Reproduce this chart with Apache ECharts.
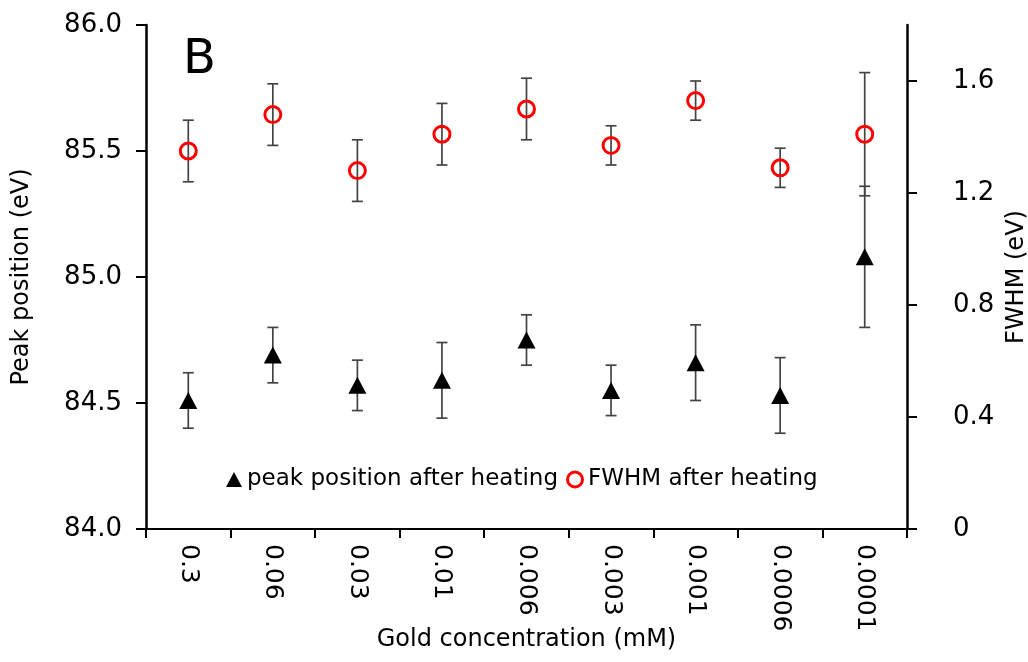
<!DOCTYPE html>
<html>
<head>
<meta charset="utf-8">
<script src="https://cdn.jsdelivr.net/npm/echarts@6/dist/echarts.min.js"></script>
<style>
  html, body { margin: 0; padding: 0; background: #fff; }
  #chart { width: 1028px; height: 662px; }
</style>
</head>
<body>
<div id="chart"></div>
<script>
// Gold concentration series (mM), in the order they are plotted
const concentrations = ['0.3', '0.06', '0.03', '0.01', '0.006', '0.003', '0.001', '0.0006', '0.0001'];

// Au 4f peak position after heating (eV) with standard deviation
const peakPosition = [84.51, 84.69, 84.57, 84.59, 84.75, 84.55, 84.66, 84.53, 85.08];
const peakError    = [0.11, 0.11, 0.10, 0.15, 0.10, 0.10, 0.15, 0.15, 0.28];

// FWHM after heating (eV) with standard deviation
const fwhm      = [1.35, 1.48, 1.28, 1.41, 1.50, 1.37, 1.53, 1.29, 1.41];
const fwhmError = [0.11, 0.11, 0.11, 0.11, 0.11, 0.07, 0.07, 0.07, 0.22];

// Right-axis tick values (the axis itself runs up to 1.8)
const fwhmTicks = [0, 0.4, 0.8, 1.2, 1.6];

const FONT = 'DejaVu Sans';
const INK = '#000';

// Vertical error bars with caps, drawn in data space of the given y axis
function errorBars(name, yAxisIndex, values, errors) {
  return {
    name: name + ' error',
    type: 'custom',
    yAxisIndex: yAxisIndex,
    silent: true,
    z: 1,
    data: values.map((v, i) => [i, v - errors[i], v + errors[i]]),
    encode: { x: 0, y: [1, 2] },
    renderItem: function (params, api) {
      const lo = api.coord([api.value(0), api.value(1)]);
      const hi = api.coord([api.value(0), api.value(2)]);
      const w = 5.5;
      const style = { stroke: '#444', lineWidth: 1.7 };
      return {
        type: 'group',
        children: [
          { type: 'line', shape: { x1: hi[0], y1: hi[1], x2: lo[0], y2: lo[1] }, style: style },
          { type: 'line', shape: { x1: hi[0] - w, y1: hi[1], x2: hi[0] + w, y2: hi[1] }, style: style },
          { type: 'line', shape: { x1: lo[0] - w, y1: lo[1], x2: lo[0] + w, y2: lo[1] }, style: style }
        ]
      };
    }
  };
}

const chart = echarts.init(document.getElementById('chart'), null, { renderer: 'canvas' });

chart.setOption({
  backgroundColor: '#fff',
  animation: false,
  textStyle: { fontFamily: FONT, color: INK },
  title: {
    text: 'B',
    left: 178,
    top: 32,
    textStyle: { fontFamily: FONT, fontSize: 48, fontWeight: 'normal', color: INK }
  },
  grid: { left: 146, right: 121, top: 25, bottom: 133, outerBoundsMode: 'none' },
  legend: {
    left: 221,
    top: 463,
    itemGap: 8,
    itemWidth: 16,
    itemHeight: 15,
    textStyle: { fontFamily: FONT, fontSize: 23, color: INK },
    data: [
      { name: 'peak position after heating', icon: 'triangle', itemStyle: { color: '#000', opacity: 1 } },
      { name: 'FWHM after heating', icon: 'circle',
        itemStyle: { color: 'transparent', borderColor: '#ff0000', borderWidth: 3, opacity: 1 } }
    ]
  },
  xAxis: {
    type: 'category',
    data: concentrations,
    boundaryGap: true,
    name: 'Gold concentration (mM)',
    nameLocation: 'middle',
    nameMoveOverlap: false,
    nameGap: 99,
    nameTextStyle: { fontFamily: FONT, fontSize: 24, color: INK },
    axisLine: { lineStyle: { color: INK, width: 2 } },
    axisTick: { show: true, length: 9, lineStyle: { color: INK, width: 2 } },
    axisLabel: { rotate: -90, margin: 15, fontFamily: FONT, fontSize: 25, color: INK },
    splitLine: { show: false }
  },
  yAxis: [
    {
      type: 'value',
      position: 'left',
      min: 84,
      max: 86,
      interval: 0.5,
      name: 'Peak position (eV)',
      nameLocation: 'middle',
      nameRotate: 90,
      nameGap: 112,
      nameTextStyle: { fontFamily: FONT, fontSize: 24, color: INK },
      axisLine: { show: true, lineStyle: { color: INK, width: 2.5 } },
      axisTick: { show: true, length: 10, lineStyle: { color: INK, width: 2 } },
      axisLabel: { margin: 24, fontFamily: FONT, fontSize: 26, color: INK,
                   formatter: v => v.toFixed(1) },
      splitLine: { show: false }
    },
    {
      type: 'value',
      position: 'right',
      min: 0,
      max: 1.8,
      interval: 0.4,
      name: 'FWHM (eV)',
      nameLocation: 'middle',
      nameRotate: 90,
      nameGap: 92,
      nameTextStyle: { fontFamily: FONT, fontSize: 24, color: INK },
      axisLine: { show: true, lineStyle: { color: INK, width: 2.5 } },
      axisTick: { show: true, length: 10, customValues: fwhmTicks, lineStyle: { color: INK, width: 2 } },
      axisLabel: { margin: 46, fontFamily: FONT, fontSize: 26, color: INK,
                   customValues: fwhmTicks, formatter: v => String(v) },
      splitLine: { show: false }
    }
  ],
  series: [
    errorBars('peak position after heating', 0, peakPosition, peakError),
    errorBars('FWHM after heating', 1, fwhm, fwhmError),
    {
      name: 'peak position after heating',
      type: 'scatter',
      yAxisIndex: 0,
      z: 3,
      symbol: 'triangle',
      symbolSize: [18, 17],
      itemStyle: { color: '#000', opacity: 1 },
      data: peakPosition
    },
    {
      name: 'FWHM after heating',
      type: 'scatter',
      yAxisIndex: 1,
      z: 3,
      symbol: 'circle',
      symbolSize: 16,
      itemStyle: { color: 'transparent', borderColor: '#ff0000', borderWidth: 3, opacity: 1 },
      data: fwhm
    }
  ]
});
</script>
</body>
</html>
